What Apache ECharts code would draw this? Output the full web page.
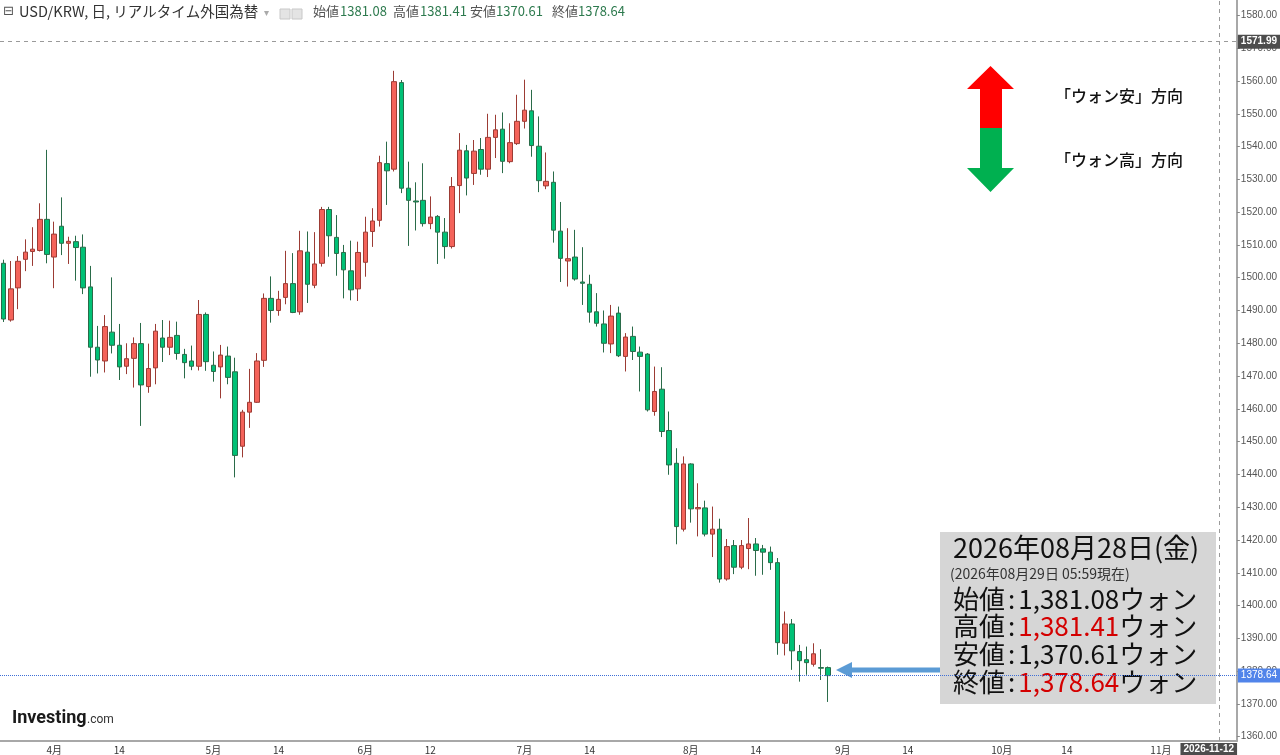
<!DOCTYPE html>
<html><head><meta charset="utf-8">
<script src="https://cdn.jsdelivr.net/npm/echarts@6/dist/echarts.min.js"></script>
<style>html,body{margin:0;padding:0;background:#fff;overflow:hidden}#c{width:1280px;height:755px}</style>
</head><body><div id="c"></div>
<script>
// ---- data ----
const firstTradingDay = '2026-03-23';
const tradingDayCount = 171; // weekdays shown on the axis (Mar 23 .. Nov 16)

const openValues = [
1504.4,1487.1,1496.9,1505.6,1508.0,1508.3,1517.8,1506.3,1515.7,1510.5,
1511.0,1509.3,1497.2,1478.8,1474.6,1483.4,1479.4,1473.0,1475.4,1479.9,
1466.8,1472.5,1481.6,1478.8,1482.4,1476.6,1474.6,1473.0,1488.8,1473.3,
1472.8,1476.1,1471.3,1448.6,1459.0,1462.0,1474.8,1493.7,1490.0,1494.0,
1498.2,1489.6,1507.8,1497.7,1504.4,1520.8,1512.3,1507.7,1502.1,1496.6,
1504.7,1514.1,1517.5,1534.8,1533.1,1559.5,1527.3,1523.4,1523.6,1516.5,
1518.7,1513.9,1509.5,1528.1,1538.7,1531.8,1539.1,1533.1,1542.8,1545.3,
1535.4,1540.9,1547.7,1550.9,1540.1,1528.0,1529.1,1514.2,1505.1,1506.3,
1498.7,1498.0,1489.6,1485.9,1479.8,1489.2,1476.0,1482.1,1477.3,1476.7,
1459.2,1466.0,1453.4,1443.4,1423.3,1443.2,1429.5,1429.8,1421.8,1423.3,
1408.1,1418.3,1411.7,1417.4,1418.8,1417.3,1416.3,1413.1,1388.5,1394.4,
1386.0,1383.5,1382.1,1381.1,1381.08];
const highValues = [
1505.5,1505.1,1506.6,1511.7,1515.4,1522.7,1539.0,1517.1,1524.5,1512.5,
1512.8,1513.2,1503.6,1485.3,1488.6,1500.1,1485.9,1480.0,1481.8,1486.2,
1479.9,1485.9,1487.1,1486.9,1486.6,1478.3,1479.3,1493.2,1489.4,1477.5,
1479.5,1479.0,1475.6,1459.7,1472.2,1477.0,1495.2,1500.4,1496.0,1508.2,
1507.5,1514.3,1514.1,1513.9,1521.6,1521.6,1519.1,1510.0,1511.3,1511.0,
1518.6,1521.2,1537.2,1541.5,1563.1,1560.3,1535.4,1529.1,1534.9,1524.8,
1519.1,1518.2,1530.7,1544.1,1540.5,1542.0,1542.6,1550.0,1549.7,1550.4,
1547.1,1555.8,1560.4,1557.3,1549.2,1538.2,1532.4,1523.1,1515.1,1514.6,
1509.3,1500.9,1495.3,1490.0,1491.7,1491.2,1483.1,1485.1,1479.0,1477.0,
1472.9,1472.7,1459.2,1448.0,1445.5,1443.4,1437.3,1432.0,1430.2,1426.5,
1420.3,1420.0,1420.0,1426.7,1420.6,1418.5,1418.0,1414.5,1398.2,1395.9,
1388.0,1387.5,1388.5,1386.7,1381.41];
const lowValues = [
1486.5,1486.6,1490.4,1502.0,1503.6,1508.0,1504.4,1496.8,1506.9,1504.2,
1499.1,1495.0,1469.8,1470.8,1471.1,1476.9,1468.8,1470.6,1466.5,1454.8,
1464.9,1467.5,1474.3,1476.4,1475.0,1469.3,1471.8,1471.7,1471.6,1468.3,
1463.2,1467.5,1439.1,1445.2,1454.2,1461.8,1472.8,1486.3,1488.4,1491.9,
1489.2,1488.7,1492.3,1496.8,1503.4,1506.4,1500.6,1493.7,1493.1,1492.9,
1500.3,1509.4,1515.6,1522.2,1532.4,1525.8,1509.7,1514.4,1515.6,1514.8,
1504.2,1505.8,1508.9,1519.7,1525.1,1528.3,1531.4,1530.7,1536.5,1531.9,
1534.9,1540.5,1545.5,1536.9,1526.1,1527.0,1510.7,1498.7,1497.3,1499.1,
1491.7,1486.3,1485.1,1477.2,1477.0,1475.8,1471.4,1474.9,1465.3,1459.2,
1457.9,1451.4,1439.9,1418.7,1422.6,1425.3,1421.1,1421.1,1414.8,1407.0,
1407.6,1409.6,1411.1,1411.1,1409.1,1409.4,1410.9,1385.0,1384.8,1380.4,
1376.8,1378.9,1381.4,1377.3,1370.61];
const closeValues = [
1487.4,1496.6,1505.0,1507.8,1508.7,1517.8,1507.1,1513.3,1510.5,1511.1,
1509.2,1496.9,1478.8,1474.9,1485.1,1479.4,1472.8,1475.3,1479.9,1467.3,
1472.3,1483.7,1478.8,1481.8,1476.9,1474.1,1473.0,1488.8,1474.4,1471.4,
1476.4,1469.6,1445.8,1459.0,1462.0,1474.6,1493.7,1490.0,1493.4,1498.2,
1489.4,1508.2,1498.0,1504.2,1520.8,1512.8,1507.4,1502.4,1496.3,1507.7,
1513.9,1517.3,1535.1,1532.6,1559.8,1527.3,1523.6,1523.1,1516.5,1518.5,
1513.9,1509.5,1527.8,1538.9,1530.4,1538.6,1533.1,1542.8,1545.1,1535.5,
1541.2,1547.7,1551.1,1540.3,1529.6,1529.4,1514.5,1505.9,1505.8,1499.6,
1498.3,1489.5,1486.1,1480.0,1488.3,1476.2,1481.9,1477.5,1476.0,1459.7,
1465.3,1453.1,1442.9,1424.1,1443.2,1429.5,1429.9,1421.8,1423.3,1408.1,
1418.0,1411.7,1418.3,1418.8,1416.8,1416.3,1413.1,1388.7,1394.4,1386.2,
1383.2,1382.6,1385.3,1380.9,1378.64];

const xTickDates = ['2026-04-01','2026-04-14','2026-05-01','2026-05-14','2026-06-01','2026-06-12',
  '2026-07-01','2026-07-14','2026-08-03','2026-08-14','2026-09-01','2026-09-14','2026-10-01','2026-10-14','2026-11-02'];
const xTickLabels = ['4月','14','5月','14','6月','12','7月','14','8月','14','9月','14','10月','14','11月'];
const yTickValues = [1360,1370,1380,1390,1400,1410,1420,1430,1440,1450,1460,1470,1480,1490,1500,
  1510,1520,1530,1540,1550,1560,1570,1580];
const yRange = [1358.7, 1584.7];

const crosshairDate = '2026-11-12';
const crosshairPrice = 1571.99;
const headerTitle = 'USD/KRW, 日, リアルタイム外国為替';
const reportDate = '2026年08月28日(金)';
const asOfText = '(2026年08月29日 05:59現在)';
const ohlcNames = ['始値','高値','安値','終値'];
const directionLabels = ['「ウォン安」方向','「ウォン高」方向'];

// ---- build ----
function buildWeekdays(start, n) {
  const out = [];
  const d = new Date(start + 'T00:00:00Z');
  while (out.length < n) {
    const wd = d.getUTCDay();
    if (wd !== 0 && wd !== 6) out.push(d.toISOString().slice(0, 10));
    d.setUTCDate(d.getUTCDate() + 1);
  }
  return out;
}
const categories = buildWeekdays(firstTradingDay, tradingDayCount);
const candleData = openValues.map((o, i) => [o, closeValues[i], lowValues[i], highValues[i]]);
const last = openValues.length - 1;
const lastOHLC = [openValues[last], highValues[last], lowValues[last], closeValues[last]];
const fmt = v => v.toFixed(2).replace(/\B(?=(\d{3})+(?!\d))/g, ',');

const JP = "'Noto Sans CJK JP','Noto Sans',sans-serif";
const chart = echarts.init(document.getElementById('c'), null, {renderer: 'canvas'});

const headerOHLC = [];
const hx = [[313, 340], [393, 420], [470, 496], [552, 578]];
ohlcNames.forEach((n, i) => {
  headerOHLC.push({type: 'text', left: hx[i][0], top: 5, style: {text: n, font: '13px ' + JP, fill: '#555'}});
  headerOHLC.push({type: 'text', left: hx[i][1], top: 5, style: {text: lastOHLC[i].toFixed(2), font: '13px ' + JP, fill: '#2d7a4e'}});
});

const boxLines = ohlcNames.map((n, i) => {
  const red = (i === 1 || i === 3);
  return {
    type: 'text', left: 953, top: 586 + i * 27.6,
    style: {
      text: '{k|' + n + '}{c|:}{' + (red ? 'r' : 'k') + '|' + fmt(lastOHLC[i]) + '}{k|ウォン}',
      rich: {
        k: {fontSize: 26, fontFamily: JP, fill: '#111', lineHeight: 28},
        c: {fontSize: 26, fontFamily: JP, fill: '#111', lineHeight: 28, padding: [0, 3, 0, 3]},
        r: {fontSize: 26, fontFamily: JP, fill: '#d40000', lineHeight: 28}
      }
    }
  };
});

chart.setOption({
  animation: false,
  backgroundColor: '#ffffff',
  grid: {left: -5.64, right: 40, top: 0, bottom: 14},
  xAxis: {
    type: 'category',
    data: categories,
    boundaryGap: true,
    axisLine: {lineStyle: {color: '#a8a8a8', width: 2}},
    axisTick: {show: false},
    axisLabel: {
      interval: (idx, val) => xTickDates.indexOf(val) >= 0,
      formatter: val => xTickLabels[xTickDates.indexOf(val)],
      color: '#333', fontSize: 10, margin: 4, fontFamily: JP
    },
    splitLine: {show: false}
  },
  yAxis: {
    type: 'value',
    position: 'right',
    min: yRange[0], max: yRange[1],
    scale: true,
    axisLine: {show: true, lineStyle: {color: '#a8a8a8', width: 2}},
    axisTick: {show: true, length: 3, lineStyle: {color: '#888'}, customValues: yTickValues},
    axisLabel: {
      customValues: yTickValues,
      formatter: v => Number(v).toFixed(2),
      color: '#555', fontSize: 10, margin: 4, fontFamily: "'Liberation Sans',Arial,sans-serif"
    },
    splitLine: {show: false}
  },
  series: [{
    type: 'candlestick',
    data: candleData,
    barWidth: 5,
    itemStyle: {
      color: '#f4635a', color0: '#00c176',
      borderColor: '#9c3b34', borderColor0: '#2a6b49', borderWidth: 1
    },
    markLine: {
      symbol: ['none', 'none'],
      silent: true,
      animation: false,
      data: [
        {
          yAxis: crosshairPrice,
          lineStyle: {color: '#9a9a9a', type: [4, 4], width: 1},
          label: {show: true, position: 'end', distance: 1, formatter: () => crosshairPrice.toFixed(2),
            backgroundColor: '#4d4d4d', color: '#fff', fontSize: 10, fontWeight: 'bold', padding: [2, 3],
            fontFamily: "'Liberation Sans',Arial,sans-serif"}
        },
        {
          xAxis: crosshairDate,
          lineStyle: {color: '#9a9a9a', type: [4, 4], width: 1},
          label: {show: true, position: 'start', distance: 2, offset: [-10, 0], formatter: () => crosshairDate,
            backgroundColor: '#4d4d4d', color: '#fff', fontSize: 10, fontWeight: 'bold', padding: [1, 3],
            fontFamily: "'Liberation Sans',Arial,sans-serif"}
        },
        {
          yAxis: lastOHLC[3],
          lineStyle: {color: '#3f6fd6', type: 'dotted', width: 1},
          label: {show: true, position: 'end', distance: 1, formatter: () => lastOHLC[3].toFixed(2),
            backgroundColor: '#5184ea', color: '#fff', fontSize: 10, padding: [2, 3],
            fontFamily: "'Liberation Sans',Arial,sans-serif"}
        }
      ]
    }
  }],
  graphic: [
    {type: 'text', left: 3, top: 5, style: {text: '⊟', font: '13px DejaVu Sans', fill: '#555'}},
    {type: 'text', left: 19, top: 4, style: {text: headerTitle, font: '14.5px ' + JP, fill: '#333'}},
    {type: 'text', left: 264, top: 8, style: {text: '▾', font: '10px DejaVu Sans', fill: '#aaa'}},
    {type: 'rect', shape: {x: 280, y: 9, width: 10, height: 10}, style: {fill: '#e4e4e4', stroke: '#c8c8c8'}},
    {type: 'rect', shape: {x: 292, y: 9, width: 10, height: 10}, style: {fill: '#e4e4e4', stroke: '#c8c8c8'}},
    ...headerOHLC,
    // direction arrows
    {type: 'polygon', shape: {points: [[967, 89], [990.5, 66], [1014, 89], [1002, 89], [1002, 128], [980, 128], [980, 89]]}, style: {fill: '#ff0000'}},
    {type: 'polygon', shape: {points: [[980, 128], [1002, 128], [1002, 168], [1014, 168], [990.5, 192], [967, 168], [980, 168]]}, style: {fill: '#00b050'}},
    {type: 'text', left: 1055, top: 88, style: {text: directionLabels[0], font: '500 16px ' + JP, fill: '#111'}},
    {type: 'text', left: 1055, top: 152, style: {text: directionLabels[1], font: '500 16px ' + JP, fill: '#111'}},
    // info box
    {type: 'rect', shape: {x: 940, y: 532, width: 276, height: 172}, style: {fill: '#d6d6d6'}},
    {type: 'text', left: 953, top: 534, style: {text: reportDate, font: '27px ' + JP, fill: '#111'}},
    {type: 'text', left: 950, top: 567, style: {text: asOfText, font: '14px ' + JP, fill: '#333'}},
    ...boxLines,
    // pointer arrow
    {type: 'polygon', shape: {points: [[836, 670], [852, 662], [852, 667.5], [940, 667.5], [940, 672.5], [852, 672.5], [852, 678]]}, style: {fill: '#5b9bd5'}},
    // logo
    {type: 'text', left: 12, top: 709, style: {text: 'Investing', font: 'bold 18px Roboto', fill: '#1a1a1a'}},
    {type: 'text', left: 87, top: 714, style: {text: '.com', font: '12px Roboto', fill: '#333'}}
  ]
});
</script>
</body></html>
